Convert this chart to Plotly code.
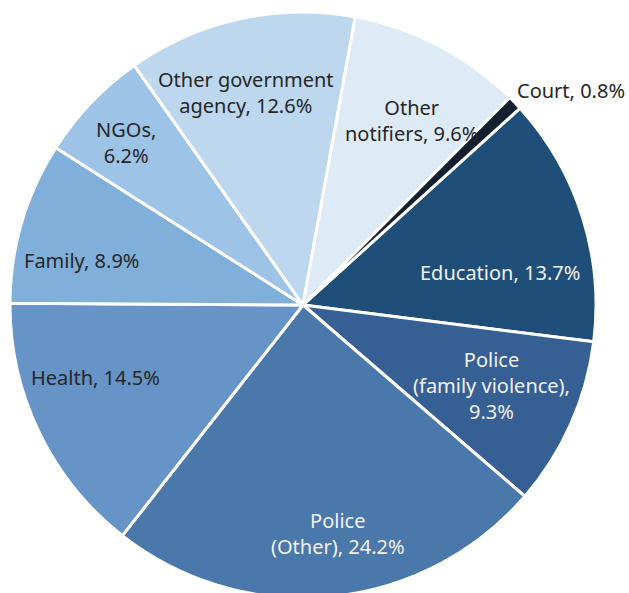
import math
import plotly.graph_objects as go

# ---- data ----
categories = ["Education", "Police<br>(family violence)", "Police<br>(Other)", "Health",
              "Family", "NGOs", "Other government<br>agency", "Other<br>notifiers", "Court"]
values = [13.7, 9.3, 24.2, 14.5, 8.9, 6.2, 12.6, 9.6, 0.8]
label_text = ["Education, 13.7%", "Police<br>(family violence),<br>9.3%", "Police<br>(Other), 24.2%",
              "Health, 14.5%", "Family, 8.9%", "NGOs,<br>6.2%", "Other government<br>agency, 12.6%",
              "Other<br>notifiers, 9.6%", "Court, 0.8%"]

# ---- style ----
colors = ["#1f4e79", "#365f93", "#4a78aa", "#6794c6", "#80b0da",
          "#9dc3e6", "#bdd7ee", "#deebf7", "#14202f"]
text_colors = ["#f2f2f2", "#f2f2f2", "#f2f2f2", "#262626", "#262626",
               "#262626", "#262626", "#262626", "#262626"]
label_radius = [0.68, 0.70, 0.79, 0.75, 0.77, 0.82, 0.75, 0.73, 1.17]
label_angle_shift = [8.0, -1.0, -3.0, 6.5, -5.0, -1.0, -2.5, 3.0, 5.0]
ROTATION = 47.8
W, H = 629, 600
ML, MR, MT, MB = 10, 33, 12, 2
FONT = "Noto Sans"
FS = 20

plot_w = W - ML - MR
plot_h = H - MT - MB
R = min(plot_w, plot_h) / 2
cx = ML + plot_w / 2
cy = MT + plot_h / 2

fig = go.Figure(go.Pie(
    labels=categories,
    values=values,
    sort=False,
    direction="clockwise",
    rotation=ROTATION,
    marker=dict(colors=colors, line=dict(color="white", width=3)),
    textinfo="none",
    hoverinfo="label+percent",
    showlegend=False,
))

total = sum(values)
start = ROTATION
annotations = []
for i, v in enumerate(values):
    span = v / total * 360
    mid = start + span / 2 + label_angle_shift[i]
    start += span
    a = math.radians(mid)
    r = label_radius[i] * R
    px = cx + r * math.sin(a)
    py = cy - r * math.cos(a)
    annotations.append(dict(
        x=(px - ML) / plot_w, y=1 - (py - MT) / plot_h,
        xref="paper", yref="paper",
        text=label_text[i], showarrow=False,
        font=dict(family=FONT, size=FS, color=text_colors[i]),
        align="center", xanchor="center", yanchor="middle",
    ))

fig.update_layout(
    width=W, height=H,
    margin=dict(l=ML, r=MR, t=MT, b=MB),
    paper_bgcolor="white", plot_bgcolor="white",
    annotations=annotations,
)

fig.write_html(
    "out.html",
    config={"displayModeBar": False},
    post_script="document.body.style.margin='0';document.body.style.overflow='hidden';",
)
